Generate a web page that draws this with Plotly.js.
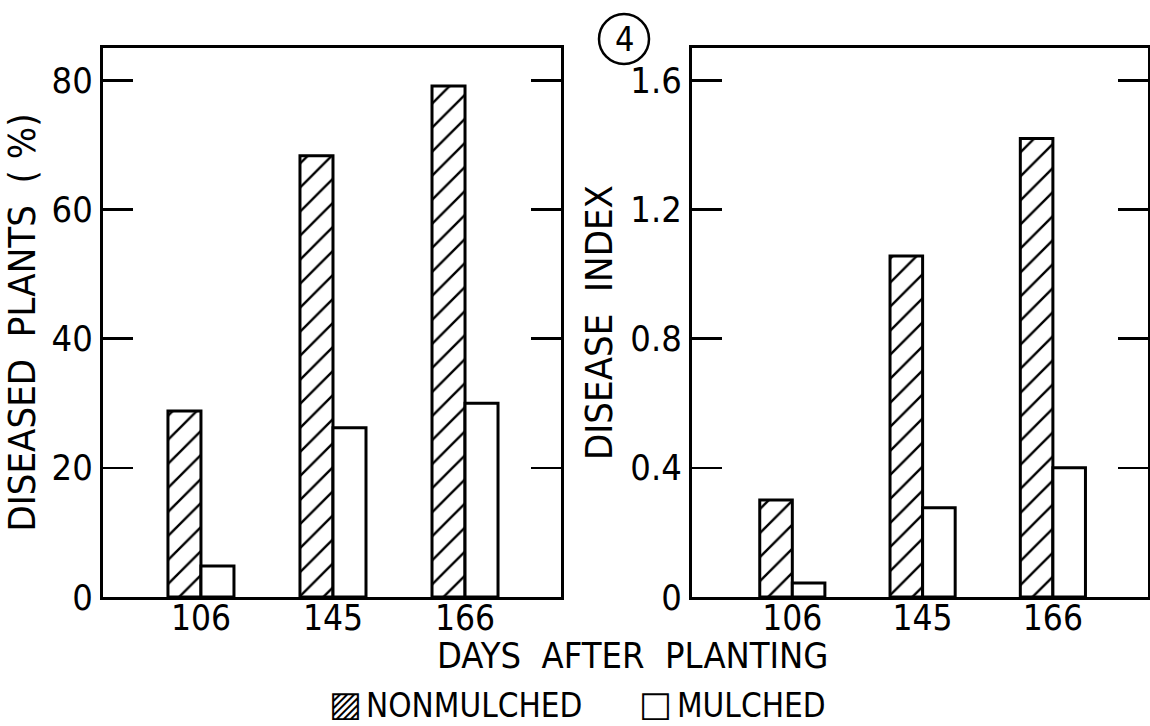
<!DOCTYPE html>
<html><head><meta charset="utf-8">
<script src="https://cdn.plot.ly/plotly-3.0.1.min.js"></script>
<style>body{margin:0;background:#fff}#chart{width:1150px;height:726px}</style>
</head><body><div id="chart"></div>
<script>
// ---- data ----
const days = ["106", "145", "166"];
const pctNonmulched = [28.8, 68.3, 79.1];
const pctMulched = [4.8, 26.2, 30.0];
const idxNonmulched = [0.30, 1.056, 1.42];
const idxMulched = [0.043, 0.276, 0.40];
const seriesNames = ["NONMULCHED", "MULCHED"];
const leftTicks = [0, 20, 40, 60, 80];
const rightTicks = [0, 0.4, 0.8, 1.2, 1.6];
const rightTickText = ["0", "0.4", "0.8", "1.2", "1.6"];

const W = 1150, H = 726;
const FONT = '"DejaVu Sans Condensed", "DejaVu Sans", sans-serif';
const px = v => v / W, py = v => 1 - v / H;

const hatched = {color: 'white', line: {color: 'black', width: 3},
  pattern: {shape: '/', fgcolor: 'black', bgcolor: 'white', size: 17, solidity: 0.14}};
const plain = {color: 'white', line: {color: 'black', width: 3}};

const traces = [
  {type: 'bar', x: days, y: pctNonmulched, name: seriesNames[0], marker: hatched, xaxis: 'x', yaxis: 'y', showlegend: false},
  {type: 'bar', x: days, y: pctMulched, name: seriesNames[1], marker: plain, xaxis: 'x', yaxis: 'y', showlegend: false},
  {type: 'bar', x: days, y: idxNonmulched, name: seriesNames[0], marker: hatched, xaxis: 'x2', yaxis: 'y2', showlegend: false},
  {type: 'bar', x: days, y: idxMulched, name: seriesNames[1], marker: plain, xaxis: 'x2', yaxis: 'y2', showlegend: false}
];

const xCommon = {type: 'category', showline: true, linewidth: 3, linecolor: 'black', mirror: true,
  ticks: '', showgrid: false, zeroline: false, tickfont: {size: 35, color: 'black'},
  ticklabelstandoff: -12, fixedrange: true};
const yCommon = {ticks: 'inside', ticklen: 30, tickwidth: 2.5, tickcolor: 'black', showline: true,
  linewidth: 3, linecolor: 'black', mirror: 'ticks', showgrid: false, zeroline: false,
  tickfont: {size: 36, color: 'black'}, tickmode: 'array', fixedrange: true};
const yDomain = [py(597), py(48)];

const ann = (text, x, y, size, extra) => Object.assign({text: text, xref: 'paper', yref: 'paper',
  x: px(x), y: py(y), xanchor: 'center', yanchor: 'middle', showarrow: false, font: {size: size}}, extra || {});

const layout = {
  width: W, height: H, margin: {l: 0, r: 0, t: 0, b: 0},
  paper_bgcolor: 'white', plot_bgcolor: 'white',
  font: {family: FONT, color: 'black', size: 36},
  barmode: 'group', bargap: 0.5, bargroupgap: 0,
  xaxis: Object.assign({}, xCommon, {domain: [px(103), px(561)], range: [-0.742, 2.727], anchor: 'y'}),
  yaxis: Object.assign({}, yCommon, {domain: yDomain, range: [0, 85], tickvals: leftTicks, anchor: 'x',
    title: {text: 'DISEASED  PLANTS  ( %)', font: {size: 38}, standoff: 6}}),
  xaxis2: Object.assign({}, xCommon, {domain: [px(692), px(1148)], range: [-0.77, 2.73], anchor: 'y2'}),
  yaxis2: Object.assign({}, yCommon, {domain: yDomain, range: [0, 1.70], tickvals: rightTicks, ticktext: rightTickText, anchor: 'x2',
    title: {text: 'DISEASE  INDEX', font: {size: 38}, standoff: 6}}),
  shapes: [
    {type: 'circle', xref: 'paper', yref: 'paper', x0: px(599), x1: px(649), y0: py(64), y1: py(14),
     line: {color: 'black', width: 2.5}}
  ],
  annotations: [
    ann('4', 624, 39, 34),
    ann('DAYS  AFTER  PLANTING', 632, 655, 36),
    ann('▨', 346, 704, 35, {font: {size: 35, family: 'DejaVu Sans'}}),
    ann(seriesNames[0], 364, 705, 33, {xanchor: 'left'}),
    ann('□', 655, 704, 35, {font: {size: 35, family: 'DejaVu Sans'}}),
    ann(seriesNames[1], 675, 705, 33, {xanchor: 'left'})
  ]
};

Plotly.newPlot('chart', traces, layout, {displayModeBar: false, staticPlot: true});
</script>
</body></html>
